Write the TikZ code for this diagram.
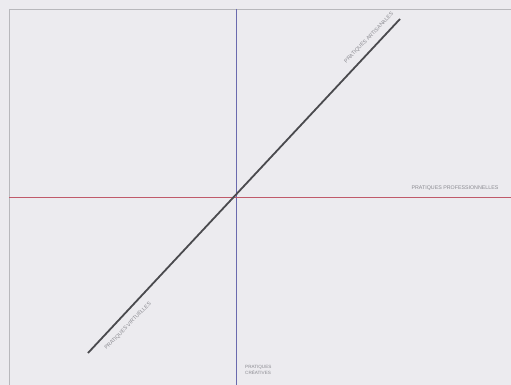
\documentclass[tikz,border=0pt]{standalone}
\usepackage{fontspec}
\setmainfont{Liberation Sans}
\definecolor{bg}{HTML}{ECEBEF}
\definecolor{frameg}{HTML}{B8B8BC}
\definecolor{vline}{HTML}{6A6AAE}
\definecolor{hline}{HTML}{C05A6A}
\definecolor{diag}{HTML}{4A4A4E}
\definecolor{lbl}{HTML}{8A8A90}
\begin{document}
\begin{tikzpicture}[x=1pt,y=-1pt,
  lab/.style={font=\fontsize{5.3}{6}\selectfont, text=lbl, inner sep=0pt},
  axis/.style={line width=0.9pt}]
\fill[bg] (0,0) rectangle (511,385);
\useasboundingbox (0,0) rectangle (511,385);
\draw[frameg, line width=0.8pt] (9,9) -- (511,9);
\draw[frameg, line width=0.8pt] (9,9) -- (9,385);
\coordinate (vt) at (236,9);
\coordinate (vb) at (236,385);
\coordinate (hl) at (9,197);
\coordinate (hr) at (511,197);
\coordinate (dl) at (88,353);
\coordinate (dr) at (400,19);
\draw[vline, axis] (vt) -- (vb);
\draw[hline, axis] (hl) -- (hr);
\draw[diag, line width=1.8pt] (dl) -- (dr);
\node[lab, rotate=46] (pa) at (369,38) {PRATIQUES ARTISANALES};
\node[lab] (pp) at (455,188) {PRATIQUES PROFESSIONNELLES};
\node[lab, rotate=46] (pv) at (128,326) {PRATIQUES VIRTUELLES};
\node[lab, align=left, anchor=north west, font=\fontsize{4.6}{6.5}\selectfont] (pc) at (245,365) {PRATIQUES\\CRÉATIVES};
\end{tikzpicture}
\end{document}
